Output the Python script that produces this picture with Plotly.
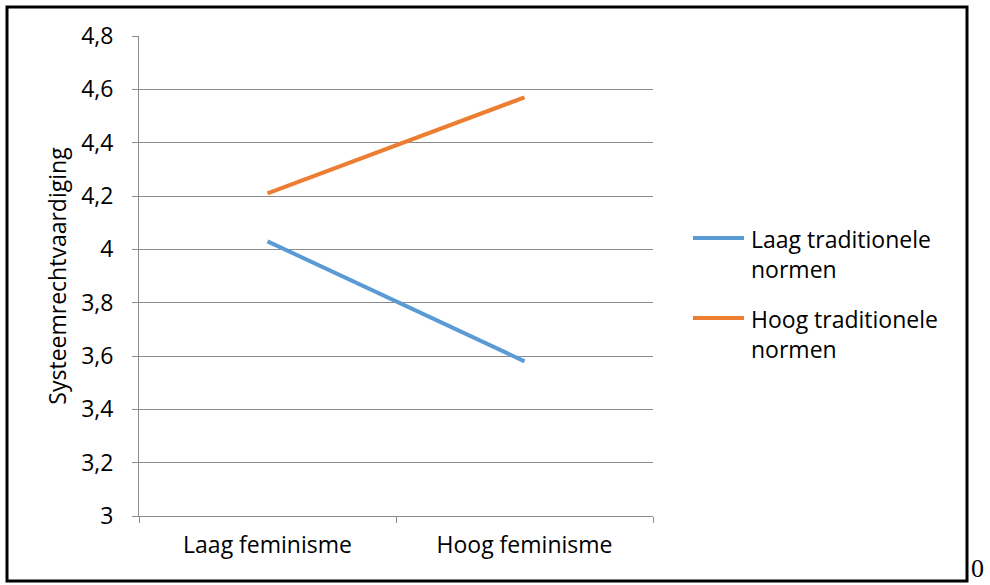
import plotly.graph_objects as go

categories = ["Laag feminisme", "Hoog feminisme"]
laag_trad = [4.03, 3.58]
hoog_trad = [4.21, 4.57]
series_names = ["Laag traditionele<br>normen", "Hoog traditionele<br>normen"]
series_colors = ["#5B9BD5", "#ED7D31"]
y_ticks = [3, 3.2, 3.4, 3.6, 3.8, 4, 4.2, 4.4, 4.6, 4.8]
y_labels = ["3", "3,2", "3,4", "3,6", "3,8", "4", "4,2", "4,4", "4,6", "4,8"]

W, H = 990, 585
L, R, T, B = 139, 653, 36, 516
pw, ph = R - L, B - T

def px(x):
    return (x - L) / pw

def py(y):
    return (B - y) / ph

font_family = "Open Sans, Liberation Sans, sans-serif"
grid = "#8C8C8C"

fig = go.Figure()
for vals, name, color in zip([laag_trad, hoog_trad], series_names, series_colors):
    fig.add_trace(go.Scatter(x=categories, y=vals, mode="lines", name=name,
                             line=dict(color=color, width=4), showlegend=False))

# custom legend (line sample + two-line label)
shapes = []
annotations = []
legend_line_y = [238, 318]
for name, color, ly in zip(series_names, series_colors, legend_line_y):
    shapes.append(dict(type="line", xref="paper", yref="paper",
                       x0=px(693), x1=px(744), y0=py(ly), y1=py(ly),
                       line=dict(color=color, width=4)))
    annotations.append(dict(text=name, xref="paper", yref="paper",
                            x=px(749), y=py(ly - 17), xanchor="left", yanchor="top",
                            align="left", showarrow=False,
                            font=dict(size=23, color="black")))

shapes.append(dict(type="rect", xref="paper", yref="paper",
                   x0=px(7), x1=px(967), y0=py(581), y1=py(7),
                   line=dict(color="black", width=3), layer="above"))
annotations.append(dict(text="0", xref="paper", yref="paper",
                        x=px(969), y=py(585), xanchor="left", yanchor="bottom",
                        showarrow=False,
                        font=dict(family="Liberation Serif, Times New Roman, serif", size=26)))

fig.update_layout(
    width=W, height=H,
    margin=dict(l=L, r=W - R, t=T, b=H - B),
    paper_bgcolor="white", plot_bgcolor="white",
    font=dict(family=font_family, size=23, color="black"),
    showlegend=False,
    xaxis=dict(type="category", range=[-0.5, 1.5], tickson="boundaries",
               ticks="outside", ticklen=6, tickcolor=grid,
               showline=True, linecolor=grid, linewidth=1,
               showgrid=False, tickfont=dict(size=23), ticklabelstandoff=8,
               fixedrange=True),
    yaxis=dict(range=[3, 4.8], tickvals=y_ticks, ticktext=y_labels,
               ticks="outside", ticklen=6, tickcolor=grid,
               showline=True, linecolor=grid, linewidth=1,
               showgrid=True, gridcolor=grid, gridwidth=1,
               zeroline=False, tickfont=dict(size=23), ticklabelstandoff=14,
               title=dict(text="Systeemrechtvaardiging", font=dict(size=23), standoff=8)),
    shapes=shapes,
    annotations=annotations,
)

fig.write_html("out.html", config={"displayModeBar": False},
               post_script="document.body.style.margin='0';document.body.style.overflow='hidden';")
